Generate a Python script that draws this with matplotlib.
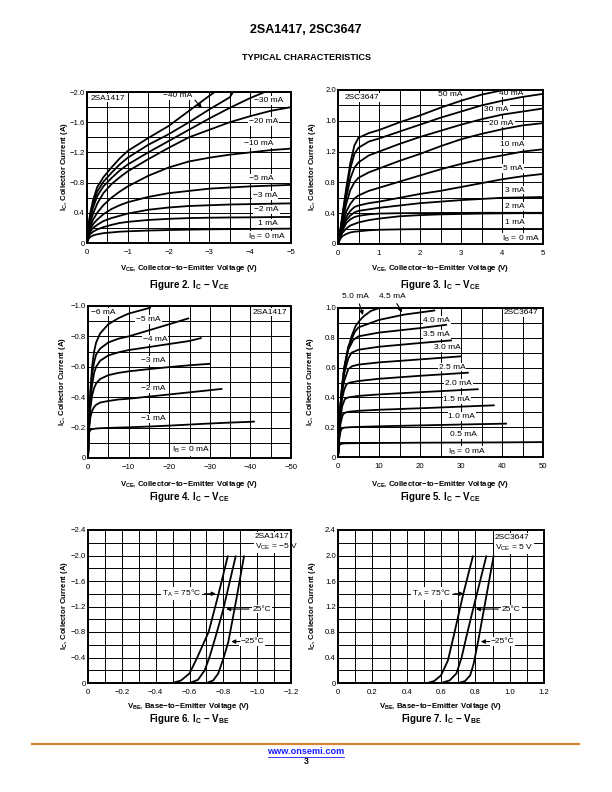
import numpy as np
import matplotlib
matplotlib.use('Agg')
import matplotlib.pyplot as plt

plt.rcParams['font.family'] = ['Liberation Sans', 'DejaVu Sans']
plt.rcParams['mathtext.fontset'] = 'custom'
plt.rcParams['mathtext.rm'] = 'Liberation Sans'
plt.rcParams['mathtext.it'] = 'Liberation Sans:italic'
plt.rcParams['mathtext.bf'] = 'Liberation Sans:bold'

# ---------------- data: Figure 2 (2SA1417, IC - VCE, magnitudes) ----------------
f2_v = [0, 0.03, 0.08, 0.15, 0.25, 0.4, 0.6, 0.8, 1.0, 1.5, 2.0, 2.5, 3.0, 3.5, 4.0, 4.5, 5.0]
f2_c1 = [0, 0.05, 0.08, 0.10, 0.115, 0.13, 0.14, 0.15, 0.155, 0.165, 0.172, 0.177, 0.181, 0.184, 0.186, 0.188, 0.19]
f2_c2 = [0, 0.07, 0.12, 0.15, 0.18, 0.21, 0.24, 0.265, 0.28, 0.305, 0.32, 0.33, 0.335, 0.338, 0.34, 0.343, 0.345]
f2_c3 = [0, 0.09, 0.15, 0.20, 0.24, 0.29, 0.33, 0.36, 0.39, 0.44, 0.47, 0.49, 0.50, 0.51, 0.515, 0.52, 0.525]
f2_c4 = [0, 0.11, 0.18, 0.25, 0.31, 0.38, 0.45, 0.50, 0.54, 0.61, 0.66, 0.69, 0.72, 0.735, 0.75, 0.76, 0.77]
f2_c5 = [0, 0.13, 0.22, 0.31, 0.40, 0.50, 0.60, 0.68, 0.75, 0.89, 1.00, 1.08, 1.13, 1.17, 1.20, 1.23, 1.25]
f2_c6 = [0, 0.15, 0.27, 0.39, 0.52, 0.66, 0.78, 0.87, 0.95, 1.11, 1.26, 1.40, 1.50, 1.60, 1.68, 1.75, 1.80]
f2_v7 = [0, 0.03, 0.08, 0.15, 0.25, 0.4, 0.6, 0.8, 1.0, 1.5, 2.0, 2.5, 3.0, 3.5, 4.0, 4.36]
f2_c7 = [0, 0.17, 0.32, 0.47, 0.62, 0.75, 0.86, 0.96, 1.04, 1.20, 1.35, 1.50, 1.65, 1.79, 1.92, 2.0]
f2_v8 = [0, 0.03, 0.08, 0.15, 0.25, 0.4, 0.6, 0.8, 1.0, 1.5, 2.0, 2.5, 3.0, 3.5, 3.58]
f2_c8 = [0, 0.19, 0.36, 0.52, 0.68, 0.81, 0.93, 1.04, 1.13, 1.30, 1.44, 1.60, 1.77, 1.93, 2.0]
f2_v9 = [0, 0.03, 0.08, 0.15, 0.25, 0.4, 0.6, 0.8, 1.0, 1.5, 2.0, 2.5, 3.0, 3.13]
f2_c9 = [0, 0.21, 0.40, 0.57, 0.74, 0.87, 1.00, 1.12, 1.22, 1.39, 1.55, 1.75, 1.95, 2.0]
f2_labels = ["\u221240 mA", "\u221230 mA", "\u221220 mA", "\u221210 mA", "\u22125 mA",
             "\u22123 mA", "\u22122 mA", "1 mA", "I$_\\mathregular{B}$ = 0 mA"]
f2_xticklabels = ["0", "\u22121", "\u22122", "\u22123", "\u22124", "\u22125"]
f2_yticklabels = ["0", "0.4", "\u22120.8", "\u22121.2", "\u22121.6", "\u22122.0"]

# ---------------- data: Figure 3 (2SC3647, IC - VCE) ----------------
f3_v = [0, 0.05, 0.1, 0.2, 0.3, 0.4, 0.5, 0.75, 1, 1.5, 2, 2.5, 3, 3.5, 4, 4.5, 5]
f3_c0 = [0, 0.06, 0.10, 0.13, 0.15, 0.16, 0.165, 0.178, 0.185, 0.19, 0.193, 0.194, 0.195, 0.195, 0.195, 0.195, 0.195]
f3_c1 = [0, 0.08, 0.14, 0.20, 0.24, 0.26, 0.28, 0.31, 0.33, 0.36, 0.375, 0.385, 0.39, 0.395, 0.398, 0.40, 0.40]
f3_c2 = [0, 0.09, 0.17, 0.27, 0.32, 0.35, 0.365, 0.385, 0.395, 0.40, 0.402, 0.403, 0.404, 0.405, 0.405, 0.405, 0.405]
f3_c3 = [0, 0.10, 0.19, 0.31, 0.37, 0.41, 0.43, 0.45, 0.47, 0.50, 0.53, 0.55, 0.57, 0.585, 0.60, 0.605, 0.61]
f3_c4 = [0, 0.11, 0.21, 0.35, 0.43, 0.48, 0.50, 0.53, 0.55, 0.60, 0.65, 0.69, 0.74, 0.79, 0.84, 0.88, 0.91]
f3_c5 = [0, 0.12, 0.24, 0.42, 0.52, 0.59, 0.63, 0.69, 0.73, 0.81, 0.89, 0.97, 1.04, 1.10, 1.15, 1.20, 1.23]
f3_c6 = [0, 0.13, 0.28, 0.52, 0.70, 0.80, 0.86, 0.93, 0.98, 1.08, 1.17, 1.27, 1.36, 1.43, 1.49, 1.54, 1.57]
f3_c7 = [0, 0.14, 0.31, 0.60, 0.85, 0.99, 1.06, 1.15, 1.20, 1.30, 1.39, 1.47, 1.55, 1.62, 1.68, 1.72, 1.76]
f3_c8 = [0, 0.15, 0.33, 0.68, 0.98, 1.17, 1.25, 1.33, 1.37, 1.46, 1.55, 1.64, 1.72, 1.80, 1.86, 1.91, 1.95]
f3_v9 = [0, 0.05, 0.1, 0.2, 0.3, 0.4, 0.5, 0.75, 1, 1.5, 2, 2.5, 3, 3.5, 4.04]
f3_c9 = [0, 0.16, 0.35, 0.72, 1.05, 1.28, 1.38, 1.44, 1.48, 1.58, 1.67, 1.77, 1.86, 1.94, 2.0]
f3_labels = ["50 mA", "40 mA", "30 mA", "20 mA", "10 mA", "5 mA", "3 mA", "2 mA", "1 mA",
             "I$_\\mathregular{B}$ = 0 mA"]
f3_xticklabels = ["0", "1", "2", "3", "4", "5"]
f3_yticklabels = ["0", "0.4", "0.8", "1.2", "1.6", "2.0"]

# ---------------- data: Figure 4 (2SA1417, IC - VCE, high voltage) ----------------
f4_v1 = [0, 0.3, 0.6, 1, 1.5, 2, 3, 5, 7.5, 10, 15, 20, 25, 30, 35, 40, 41.1]
f4_c1 = [0, 0.17, 0.185, 0.19, 0.192, 0.194, 0.196, 0.198, 0.20, 0.202, 0.207, 0.213, 0.22, 0.227, 0.233, 0.238, 0.24]
f4_v2 = [0, 0.3, 0.6, 1, 1.5, 2, 3, 5, 7.5, 10, 15, 20, 25, 30, 33.1]
f4_c2 = [0, 0.20, 0.27, 0.31, 0.335, 0.35, 0.365, 0.375, 0.385, 0.39, 0.404, 0.418, 0.432, 0.446, 0.455]
f4_v3 = [0, 0.3, 0.6, 1, 1.5, 2, 3, 5, 7.5, 10, 15, 20, 25, 30.1]
f4_c3 = [0, 0.22, 0.33, 0.41, 0.46, 0.49, 0.52, 0.545, 0.56, 0.57, 0.585, 0.598, 0.61, 0.62]
f4_v4 = [0, 0.3, 0.6, 1, 1.5, 2, 3, 5, 7.5, 10, 15, 20, 25, 28]
f4_c4 = [0, 0.24, 0.38, 0.48, 0.56, 0.60, 0.64, 0.675, 0.695, 0.71, 0.73, 0.75, 0.77, 0.79]
f4_v5 = [0, 0.3, 0.6, 1, 1.5, 2, 3, 5, 7.5, 10, 15, 20, 24.9]
f4_c5 = [0, 0.26, 0.42, 0.55, 0.63, 0.68, 0.72, 0.76, 0.785, 0.80, 0.84, 0.88, 0.92]
f4_v6 = [0, 0.3, 0.6, 1, 1.5, 2, 3, 5, 7.5, 10, 15.5]
f4_c6 = [0, 0.28, 0.45, 0.60, 0.70, 0.76, 0.82, 0.88, 0.92, 0.95, 0.99]
f4_labels = ["\u22126 mA", "\u22125 mA", "\u22124 mA", "\u22123 mA", "\u22122 mA", "\u22121 mA",
             "I$_\\mathregular{B}$ = 0 mA"]
f4_xticklabels = ["0", "\u221210", "\u221220", "\u221230", "\u221240", "\u221250"]
f4_yticklabels = ["0", "\u22120.2", "\u22120.4", "\u22120.6", "\u22120.8", "\u22121.0"]

# ---------------- data: Figure 5 (2SC3647, IC - VCE, high voltage) ----------------
f5_v0 = [0, 0.2, 0.5, 1, 2, 5, 10, 20, 30, 40, 50]
f5_c0 = [0, 0.07, 0.085, 0.09, 0.092, 0.093, 0.094, 0.096, 0.097, 0.098, 0.10]
f5_v1 = [0, 0.3, 0.6, 0.9, 1.5, 3, 5, 10, 20, 30, 41.2]
f5_c1 = [0, 0.12, 0.17, 0.19, 0.197, 0.20, 0.202, 0.206, 0.212, 0.218, 0.224]
f5_v2 = [0, 0.3, 0.6, 1, 1.3, 2, 3, 5, 10, 20, 30, 38.2]
f5_c2 = [0, 0.14, 0.22, 0.27, 0.29, 0.30, 0.305, 0.31, 0.317, 0.327, 0.338, 0.347]
f5_v3 = [0, 0.3, 0.6, 1, 1.7, 2.5, 5, 10, 20, 30, 34.3]
f5_c3 = [0, 0.15, 0.26, 0.34, 0.39, 0.40, 0.41, 0.42, 0.435, 0.449, 0.455]
f5_v4 = [0, 0.3, 0.6, 1, 1.5, 2.1, 3, 5, 10, 20, 31.9]
f5_c4 = [0, 0.16, 0.29, 0.39, 0.45, 0.49, 0.50, 0.51, 0.525, 0.545, 0.566]
f5_v5 = [0, 0.3, 0.6, 1, 1.5, 2.5, 3.5, 5, 10, 20, 30.2]
f5_c5 = [0, 0.17, 0.31, 0.43, 0.51, 0.59, 0.61, 0.62, 0.635, 0.655, 0.676]
f5_v6 = [0, 0.3, 0.6, 1, 1.5, 2.5, 3.3, 5, 10, 20, 27.8]
f5_c6 = [0, 0.18, 0.33, 0.46, 0.56, 0.66, 0.70, 0.72, 0.74, 0.765, 0.783]
f5_v7 = [0, 0.3, 0.6, 1, 1.5, 2.5, 3.7, 5, 10, 20, 26.6]
f5_c7 = [0, 0.19, 0.34, 0.48, 0.59, 0.72, 0.785, 0.81, 0.835, 0.865, 0.888]
f5_v8 = [0, 0.3, 0.6, 1, 1.5, 2.5, 4.1, 5, 10, 16, 23.7]
f5_c8 = [0, 0.19, 0.35, 0.48, 0.60, 0.74, 0.84, 0.87, 0.92, 0.955, 0.984]
f5_v9 = [0, 0.3, 0.6, 1, 1.7, 2.5, 3.3, 4.3, 5.4, 6.3, 8, 10.1]
f5_c9 = [0, 0.19, 0.34, 0.47, 0.62, 0.73, 0.81, 0.88, 0.92, 0.945, 0.98, 1.0]
f5_labels = ["5.0 mA", "4.5 mA", "4.0 mA", "3.5 mA", "3.0 mA", "2.5 mA", "2.0 mA", "1.5 mA",
             "1.0 mA", "0.5 mA", "I$_\\mathregular{B}$ = 0 mA"]
f5_xticklabels = ["0", "10", "20", "30", "40", "50"]
f5_yticklabels = ["0", "0.2", "0.4", "0.6", "0.8", "1.0"]

# ---------------- data: Figure 6 (2SA1417, IC - VBE) ----------------
f6_v75 = [0, 0.50, 0.55, 0.60, 0.644, 0.713, 0.772, 0.827]
f6_i75 = [0, 0, 0.04, 0.15, 0.39, 0.80, 1.40, 2.0]
f6_v25 = [0, 0.60, 0.65, 0.69, 0.72, 0.76, 0.80, 0.874]
f6_i25 = [0, 0, 0.05, 0.20, 0.42, 0.78, 1.16, 2.0]
f6_vm25 = [0, 0.70, 0.74, 0.77, 0.80, 0.83, 0.876, 0.923]
f6_im25 = [0, 0, 0.04, 0.15, 0.38, 0.65, 1.30, 2.0]
f6_xticklabels = ["0", "\u22120.2", "\u22120.4", "\u22120.6", "\u22120.8", "\u22121.0", "\u22121.2"]
f6_yticklabels = ["0", "\u22120.4", "\u22120.8", "\u22121.2", "\u22121.6", "\u22122.0", "\u22122.4"]

# ---------------- data: Figure 7 (2SC3647, IC - VBE) ----------------
f7_v75 = [0, 0.52, 0.56, 0.60, 0.64, 0.675, 0.73, 0.787]
f7_i75 = [0, 0, 0.03, 0.12, 0.35, 0.75, 1.40, 2.0]
f7_v25 = [0, 0.60, 0.65, 0.69, 0.72, 0.75, 0.787, 0.865]
f7_i25 = [0, 0, 0.04, 0.15, 0.40, 0.75, 1.16, 2.0]
f7_vm25 = [0, 0.70, 0.74, 0.77, 0.79, 0.816, 0.86, 0.907]
f7_im25 = [0, 0, 0.03, 0.12, 0.30, 0.65, 1.30, 2.0]
f7_xticklabels = ["0", "0.2", "0.4", "0.6", "0.8", "1.0", "1.2"]
f7_yticklabels = ["0", "0.4", "0.8", "1.2", "1.6", "2.0", "2.4"]

# ---------------- drawing ----------------
W, H = 612, 792
fig = plt.figure(figsize=(W / 100, H / 100), dpi=100)

CURVE = dict(color='black', lw=1.3, solid_capstyle='butt', zorder=3, clip_on=True)
LBL = dict(fontsize=6, ha='center', va='center', zorder=2.5,
           bbox=dict(facecolor='white', edgecolor='none', pad=0.6))
ARW = dict(arrowstyle='-|>', color='black', lw=0.8, mutation_scale=6)


def add_ax(x0, y0, x1, y1):
    return fig.add_axes([x0 / W, 1 - y1 / H, (x1 - x0) / W, (y1 - y0) / H])


def style(ax, xmax, ymax, nx, ny, xlabels, ylabels):
    ax.set_xlim(0, xmax)
    ax.set_ylim(0, ymax)
    xt = np.linspace(0, xmax, nx + 1)
    yt = np.linspace(0, ymax, ny + 1)
    ax.set_xticks(xt)
    ax.set_yticks(yt)
    kx = nx // (len(xlabels) - 1)
    ky = ny // (len(ylabels) - 1)
    ax.set_xticklabels([xlabels[i // kx] if i % kx == 0 else "" for i in range(nx + 1)])
    ax.set_yticklabels([ylabels[i // ky] if i % ky == 0 else "" for i in range(ny + 1)])
    ax.grid(True, color='black', lw=0.7, zorder=1)
    ax.set_axisbelow(True)
    ax.tick_params(axis='x', length=0, labelsize=5.6, pad=4)
    ax.tick_params(axis='y', length=0, labelsize=5.6, pad=1.5)
    for s in ax.spines.values():
        s.set_linewidth(1.4)
        s.set_zorder(4)


def ftext(x, y, s, **kw):
    fig.text(x / W, 1 - y / H, s, **kw)


def captions(xc, yc_axis, ylab_x, xlab_y, cap_y, xlab, cap):
    ftext(xc, xlab_y, xlab, fontsize=5.6, ha='center', va='center', fontweight='bold')
    ftext(xc, cap_y, cap, fontsize=7, ha='center', va='center', fontweight='bold')
    ftext(ylab_x, yc_axis, r"$\mathbf{I_C}$, Collector Current (A)", fontsize=5.6,
          ha='center', va='center', rotation=90, fontweight='bold')


MINUS = "\u2212"
XL_CE = r"$\mathbf{V_{CE}}$, Collector" + MINUS + "to" + MINUS + "Emitter Voltage (V)"
XL_BE = r"$\mathbf{V_{BE}}$, Base" + MINUS + "to" + MINUS + "Emitter Voltage (V)"
CAP_CE = r"$\mathbf{I_C}$ " + MINUS + r" $\mathbf{V_{CE}}$"
CAP_BE = r"$\mathbf{I_C}$ " + MINUS + r" $\mathbf{V_{BE}}$"

# header / footer
ftext(306, 30, "2SA1417, 2SC3647", fontsize=9, fontweight='bold', ha='center', va='center')
ftext(306, 57, "TYPICAL CHARACTERISTICS", fontsize=6.6, fontweight='bold', ha='center', va='center')
fig.add_artist(plt.Line2D([32 / W, 579 / W], [1 - 744 / H, 1 - 744 / H], color='#D9822F', lw=1.6))
ftext(306, 752, "www.onsemi.com", fontsize=6.6, fontweight='bold', ha='center', va='center',
      color='#1a1aff')
fig.add_artist(plt.Line2D([268 / W, 344 / W], [1 - 757 / H, 1 - 757 / H], color='#1a1aff', lw=0.6))
ftext(306, 762, "3", fontsize=6.2, fontweight='bold', ha='center', va='center')

# ---- Figure 2 ----
ax = add_ax(87, 92, 291, 243)
style(ax, 5, 2.0, 10, 10, f2_xticklabels, f2_yticklabels)
for v, c in [(f2_v, f2_c1), (f2_v, f2_c2), (f2_v, f2_c3), (f2_v, f2_c4), (f2_v, f2_c5),
             (f2_v, f2_c6), (f2_v7, f2_c7), (f2_v8, f2_c8), (f2_v9, f2_c9)]:
    ax.plot(v, c, **CURVE)
f2_pos = [(2.23, 1.95), (4.44, 1.89), (4.32, 1.61), (4.2, 1.32), (4.28, 0.85),
          (4.36, 0.63), (4.4, 0.44), (4.44, 0.26), (4.4, 0.08)]
for (x, y), t in zip(f2_pos, f2_labels):
    ax.text(x, y, t, **LBL)
ax.annotate("", xy=(2.86, 1.76), xytext=(2.6, 1.92), arrowprops=ARW, zorder=5)
ax.text(0.52, 1.92, "2SA1417", **LBL)
captions(189, 167, 64, 269, 285, XL_CE, "Figure 2. " + CAP_CE)

# ---- Figure 3 ----
ax = add_ax(338, 90, 543, 244)
style(ax, 5, 2.0, 10, 10, f3_xticklabels, f3_yticklabels)
for c in [f3_c0, f3_c1, f3_c2, f3_c3, f3_c4, f3_c5, f3_c6, f3_c7, f3_c8]:
    ax.plot(f3_v, c, **CURVE)
ax.plot(f3_v9, f3_c9, **CURVE)
f3_pos = [(2.73, 1.94), (4.23, 1.96), (3.87, 1.75), (3.99, 1.57), (4.25, 1.29), (4.27, 0.98),
          (4.31, 0.70), (4.31, 0.49), (4.31, 0.28), (4.47, 0.06)]
for (x, y), t in zip(f3_pos, f3_labels):
    ax.text(x, y, t, **LBL)
ax.text(0.58, 1.9, "2SC3647", **LBL)
captions(440, 167, 312, 269, 285, XL_CE, "Figure 3. " + CAP_CE)

# ---- Figure 4 ----
ax = add_ax(88, 306, 291, 458)
style(ax, 50, 1.0, 10, 10, f4_xticklabels, f4_yticklabels)
for v, c in [(f4_v1, f4_c1), (f4_v2, f4_c2), (f4_v3, f4_c3), (f4_v4, f4_c4),
             (f4_v5, f4_c5), (f4_v6, f4_c6)]:
    ax.plot(v, c, **CURVE)
f4_pos = [(3.85, 0.96), (14.9, 0.91), (16.6, 0.78), (16.1, 0.64), (16.1, 0.455), (16.1, 0.26),
          (25.2, 0.05)]
for (x, y), t in zip(f4_pos, f4_labels):
    ax.text(x, y, t, **LBL)
ax.text(44.8, 0.96, "2SA1417", **LBL)
captions(189, 382, 62, 485, 497, XL_CE, "Figure 4. " + CAP_CE)

# ---- Figure 5 ----
ax = add_ax(338, 308, 543, 457)
style(ax, 50, 1.0, 10, 10, f5_xticklabels, f5_yticklabels)
for v, c in [(f5_v0, f5_c0), (f5_v1, f5_c1), (f5_v2, f5_c2), (f5_v3, f5_c3), (f5_v4, f5_c4),
             (f5_v5, f5_c5), (f5_v6, f5_c6), (f5_v7, f5_c7), (f5_v8, f5_c8), (f5_v9, f5_c9)]:
    ax.plot(v, c, **CURVE)
f5_pos = [(4.2, 1.078), (13.2, 1.074), (24.1, 0.917), (24.1, 0.823), (26.6, 0.734), (27.8, 0.604),
          (29.4, 0.492), (29.0, 0.385), (30.2, 0.273), (30.7, 0.15), (31.5, 0.034)]
for i, ((x, y), t) in enumerate(zip(f5_pos, f5_labels)):
    kw = dict(LBL)
    if i < 2:
        kw['clip_on'] = False
        kw.pop('bbox')
    ax.text(x, y, t, **kw)
ax.annotate("", xy=(6.3, 0.935), xytext=(5.0, 1.045), annotation_clip=False, arrowprops=ARW)
ax.annotate("", xy=(16.0, 0.955), xytext=(14.0, 1.045), annotation_clip=False, arrowprops=ARW)
ax.text(44.6, 0.97, "2SC3647", **LBL)
captions(440, 382, 310, 485, 497, XL_CE, "Figure 5. " + CAP_CE)

# ---- Figure 6 ----
ax = add_ax(88, 530, 291, 683)
style(ax, 1.2, 2.4, 12, 12, f6_xticklabels, f6_yticklabels)
for v, c in [(f6_v75, f6_i75), (f6_v25, f6_i25), (f6_vm25, f6_im25)]:
    ax.plot(v, c, **CURVE)
ax.text(0.555, 1.4, "T$_\\mathregular{A}$ = 75\u00b0C", **LBL)
ax.annotate("", xy=(0.772, 1.4), xytext=(0.673, 1.4), arrowprops=ARW)
ax.text(1.03, 1.16, "25\u00b0C", **LBL)
ax.annotate("", xy=(0.80, 1.16), xytext=(0.968, 1.16), arrowprops=ARW)
ax.text(0.97, 0.65, "\u221225\u00b0C", **LBL)
ax.annotate("", xy=(0.83, 0.65), xytext=(0.915, 0.65), arrowprops=ARW)
ax.text(0.985, 2.30, "2SA1417", fontsize=6, ha='left', va='center', zorder=2.5,
        bbox=dict(facecolor='white', edgecolor='none', pad=0.6))
ax.text(0.985, 2.14, "V$_\\mathregular{CE}$ = \u22125 V", fontsize=6, ha='left', va='center', zorder=2.5,
        bbox=dict(facecolor='white', edgecolor='none', pad=0.6))
captions(189, 606, 65, 706, 719, XL_BE, "Figure 6. " + CAP_BE)

# ---- Figure 7 ----
ax = add_ax(338, 530, 544, 683)
style(ax, 1.2, 2.4, 12, 12, f7_xticklabels, f7_yticklabels)
for v, c in [(f7_v75, f7_i75), (f7_v25, f7_i25), (f7_vm25, f7_im25)]:
    ax.plot(v, c, **CURVE)
ax.text(0.545, 1.4, "T$_\\mathregular{A}$ = 75\u00b0C", **LBL)
ax.annotate("", xy=(0.749, 1.4), xytext=(0.66, 1.4), arrowprops=ARW)
ax.text(1.01, 1.16, "25\u00b0C", **LBL)
ax.annotate("", xy=(0.787, 1.16), xytext=(0.95, 1.16), arrowprops=ARW)
ax.text(0.96, 0.65, "\u221225\u00b0C", **LBL)
ax.annotate("", xy=(0.816, 0.65), xytext=(0.90, 0.65), arrowprops=ARW)
ax.text(0.913, 2.28, "2SC3647", fontsize=6, ha='left', va='center', zorder=2.5,
        bbox=dict(facecolor='white', edgecolor='none', pad=0.6))
ax.text(0.913, 2.12, "V$_\\mathregular{CE}$ = 5 V", fontsize=6, ha='left', va='center', zorder=2.5,
        bbox=dict(facecolor='white', edgecolor='none', pad=0.6))
captions(441, 606, 312, 706, 719, XL_BE, "Figure 7. " + CAP_BE)

fig.savefig("out.png", dpi=100)
